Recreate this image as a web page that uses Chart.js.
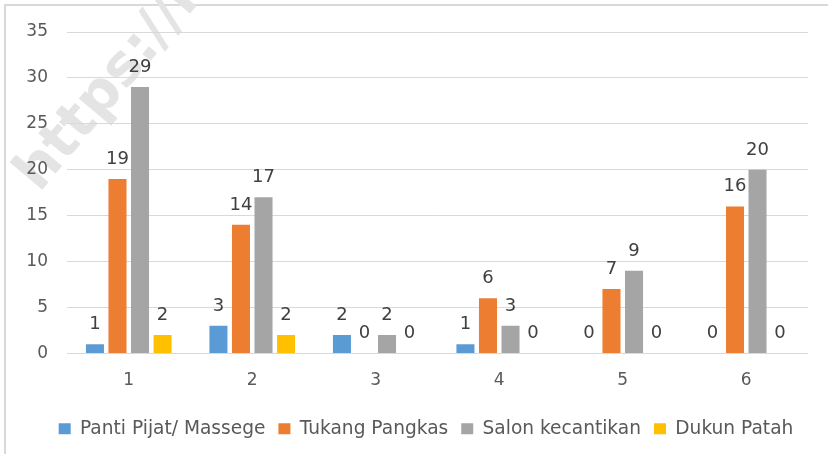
<!DOCTYPE html>
<html>
<head>
<meta charset="utf-8">
<script src="https://cdn.jsdelivr.net/npm/chart.js@4"></script>
<style>
    html, body { margin: 0; padding: 0; background: #ffffff; }
    #wrap { position: relative; width: 828px; height: 454px; }
</style>
</head>
<body>
<div id="wrap"><canvas id="myChart" width="828" height="454"></canvas></div>
<script>
let categories = ["1", "2", "3", "4", "5", "6"];
let seriesNames = ["Panti Pijat/ Massege", "Tukang Pangkas", "Salon kecantikan", "Dukun Patah"];
let pantiPijat = [1, 3, 2, 1, 0, 0];
let tukangPangkas = [19, 14, 0, 6, 7, 16];
let salonKecantikan = [29, 17, 2, 3, 9, 20];
let dukunPatah = [2, 2, 0, 0, 0, 0];
let yTicks = [0, 5, 10, 15, 20, 25, 30, 35];
let seriesColors = ["#5b9bd5", "#ed7d31", "#a5a5a5", "#ffc000"];

let fontFamily = "'DejaVu Sans', sans-serif";

// frame + watermark behind, value labels on top
let decorPlugin = {
    id: "decor",
    afterLayout: function(chart) {
        // legend sits a bit right of centre in the original
        if (chart.legend) {
            chart.legend.left += 22;
            chart.legend.right += 22;
        }
    },
    beforeDraw: function(chart) {
        let ctx = chart.ctx;
        ctx.save();
        ctx.strokeStyle = "#d9d9d9";
        ctx.lineWidth = 2;
        ctx.beginPath();
        ctx.moveTo(5, 454);
        ctx.lineTo(5, 5);
        ctx.lineTo(828, 5);
        ctx.stroke();
        ctx.restore();

        ctx.save();
        ctx.translate(28, 184);
        ctx.rotate(-50 * Math.PI / 180);
        ctx.font = "bold 56px " + fontFamily;
        ctx.fillStyle = "#e4e4e4";
        ctx.fillText("https://m", 0, 0);
        ctx.restore();
    },
    afterDatasetsDraw: function(chart) {
        let ctx = chart.ctx;
        ctx.save();
        ctx.font = "18px " + fontFamily;
        ctx.fillStyle = "#404040";
        ctx.textAlign = "center";
        ctx.textBaseline = "alphabetic";
        chart.data.datasets.forEach((ds, i) => {
            let meta = chart.getDatasetMeta(i);
            meta.data.forEach((bar, j) => {
                ctx.fillText(String(ds.data[j]), bar.x, bar.y - 15);
            });
        });
        ctx.restore();
    }
};

function initChart() {
    let data = {
        labels: categories,
        datasets: [
            { label: seriesNames[0], data: pantiPijat, backgroundColor: seriesColors[0] },
            { label: seriesNames[1], data: tukangPangkas, backgroundColor: seriesColors[1] },
            { label: seriesNames[2], data: salonKecantikan, backgroundColor: seriesColors[2] },
            { label: seriesNames[3], data: dukunPatah, backgroundColor: seriesColors[3] }
        ]
    };

    let options = {
        responsive: false,
        animation: false,
        maintainAspectRatio: false,
        layout: {
            padding: { left: 0, right: 20, top: 32, bottom: 6 }
        },
        datasets: {
            bar: { barPercentage: 0.8, categoryPercentage: 0.73, borderWidth: 0 }
        },
        scales: {
            x: {
                grid: { display: false, drawTicks: false },
                border: { display: false },
                ticks: { color: "#595959", font: { family: fontFamily, size: 17 }, padding: 17 },
                afterFit: function(scale) { scale.height = 53; }
            },
            y: {
                min: 0,
                max: 35,
                afterBuildTicks: function(scale) {
                    scale.ticks = yTicks.map(v => ({ value: v }));
                },
                grid: { color: "#d9d9d9", lineWidth: 1, drawTicks: false },
                border: { display: false },
                ticks: { color: "#595959", font: { family: fontFamily, size: 17 }, padding: 19 },
                afterFit: function(scale) { scale.width = 67; }
            }
        },
        plugins: {
            legend: {
                position: "bottom",
                labels: {
                    boxWidth: 12,
                    boxHeight: 11,
                    padding: 13,
                    color: "#595959",
                    font: { family: fontFamily, size: 18.6 }
                }
            },
            tooltip: { enabled: false }
        }
    };

    let ctx = document.getElementById("myChart").getContext("2d");
    new Chart(ctx, {
        type: "bar",
        data: data,
        options: options,
        plugins: [decorPlugin]
    });
}

initChart();
</script>
</body>
</html>
